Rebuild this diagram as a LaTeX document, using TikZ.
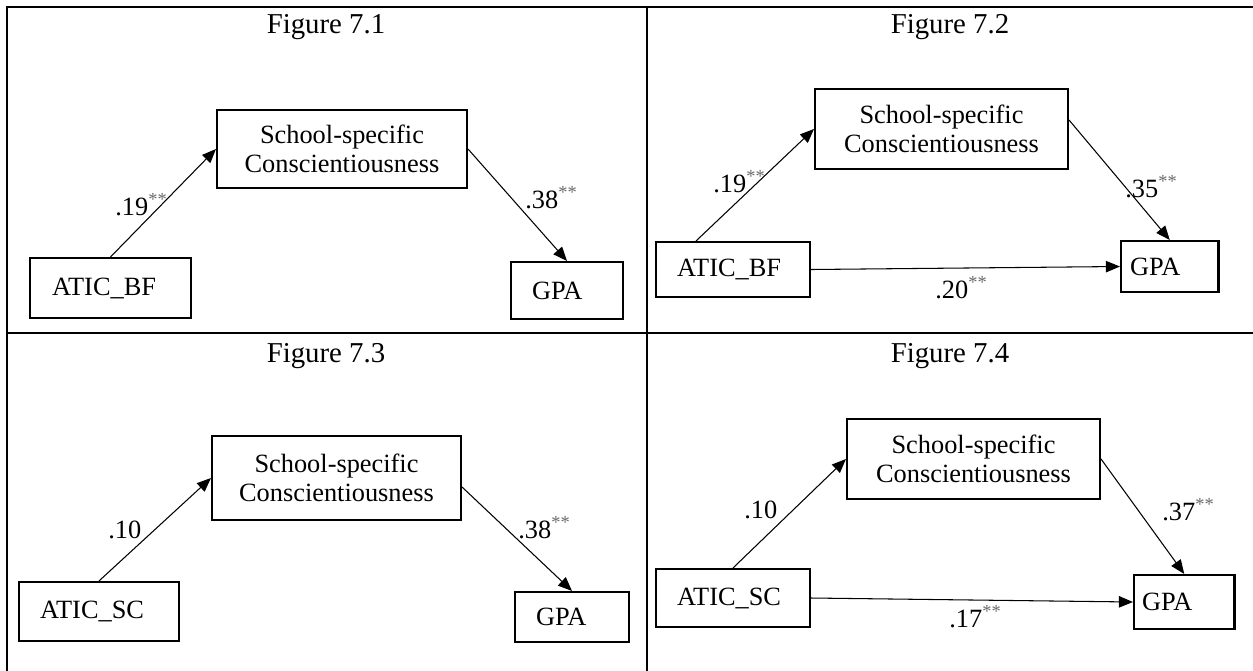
\documentclass[tikz,border=0pt]{standalone}
\usepackage{fontspec}
\setmainfont{Liberation Serif}
\usetikzlibrary{arrows.meta}
\definecolor{StarGray}{RGB}{105,105,105}
\newcommand{\sig}{\textsuperscript{\textcolor{StarGray}{**}}}

\begin{document}
\begin{tikzpicture}[
        x=0.02cm, y=-0.02cm,
        med/.style={draw, line width=1.2pt, minimum width=5.0cm, minimum height=1.6cm, align=center, font=\fontsize{15}{16.5}\selectfont},
        var/.style={draw, line width=1.2pt, inner xsep=0.42cm, align=left, font=\fontsize{15}{16.5}\selectfont},
        coef/.style={anchor=base west, inner sep=0pt, font=\fontsize{15}{16.5}\selectfont},
        figtitle/.style={anchor=base, inner sep=0pt, font=\fontsize{16.4}{18}\selectfont},
        frame/.style={line width=1.1pt},
        arr/.style={-{Triangle[length=8pt, width=6.5pt]}, line width=0.6pt}
    ]
    \useasboundingbox (0,0) rectangle (1253,670);

    % table lines
    \draw[frame] (1270,7) -| (7,680);
    \draw[frame] (647,7) -- (647,680);
    \draw[frame] (7,333) -- (1270,333);

    % Figure 7.1
    \node[figtitle] (t1) at (326,33) {Figure 7.1};
    \node[med, minimum height=1.56cm] (med1) at (342,149) {School-specific\\Conscientiousness};
    \node[var, text width=2.34cm, inner xsep=0.44cm, minimum height=1.2cm] (iv1) at (110.5,288) {ATIC\_BF};
    \node[var, text width=1.40cm, minimum height=1.14cm] (dv1) at (567,290.5) {GPA};
    \draw[arr] (iv1.north) -- (med1.west);
    \draw[arr] (med1.east) -- (dv1.north);
    \node[coef] (c1a) at (115,215) {.19\sig};
    \node[coef] (c1b) at (525,208) {.38\sig};

    % Figure 7.2
    \node[figtitle] (t2) at (950,33) {Figure 7.2};
    \node[med, minimum width=5.06cm] (med2) at (941.5,129) {School-specific\\Conscientiousness};
    \node[var, text width=2.24cm, minimum height=1.1cm] (iv2) at (733,269.5) {ATIC\_BF};
    \node[var, text width=1.59cm, inner xsep=0.18cm, minimum height=1.02cm] (dv2) at (1169.75,266.5) {GPA};
    \draw[arr] ([xshift=-0.74cm]iv2.north) -- (med2.west);
    \draw[arr] ([yshift=0.18cm]med2.east) -- (dv2.north);
    \draw[arr] (iv2.east) -- (dv2.west);
    \node[coef] (c2a) at (713,192) {.19\sig};
    \node[coef] (c2b) at (1125,197) {.35\sig};
    \node[coef] (c2c) at (935,298) {.20\sig};

    % Figure 7.3
    \node[figtitle] (t3) at (326,362) {Figure 7.3};
    \node[med, minimum width=4.98cm, minimum height=1.68cm] (med3) at (336.5,478) {School-specific\\Conscientiousness};
    \node[var, text width=2.36cm, minimum height=1.18cm] (iv3) at (99,611.5) {ATIC\_SC};
    \node[var, text width=1.44cm, minimum height=1.0cm] (dv3) at (572,617) {GPA};
    \draw[arr] (iv3.north) -- (med3.west);
    \draw[arr] ([yshift=-0.18cm]med3.east) -- (dv3.north);
    \node[coef] (c3a) at (108,538) {.10};
    \node[coef] (c3b) at (518,538) {.38\sig};

    % Figure 7.4
    \node[figtitle] (t4) at (950,362) {Figure 7.4};
    \node[med, minimum width=5.06cm] (med4) at (973.5,459) {School-specific\\Conscientiousness};
    \node[var, text width=2.24cm, minimum height=1.16cm] (iv4) at (733,598) {ATIC\_SC};
    \node[var, text width=1.69cm, inner xsep=0.16cm, minimum height=1.08cm] (dv4) at (1184.25,602) {GPA};
    \draw[arr] (iv4.north) -- (med4.west);
    \draw[arr] (med4.east) -- (dv4.north);
    \draw[arr] (iv4.east) -- (dv4.west);
    \node[coef] (c4a) at (744,518) {.10};
    \node[coef] (c4b) at (1162,520) {.37\sig};
    \node[coef] (c4c) at (949,627) {.17\sig};
\end{tikzpicture}
\end{document}
